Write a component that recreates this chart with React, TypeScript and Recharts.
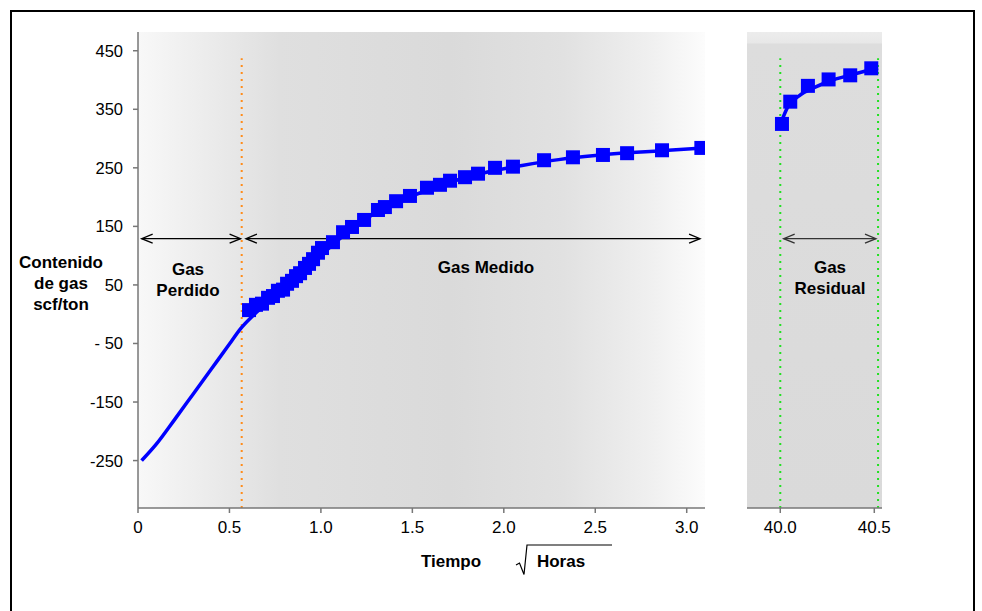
import React from 'react';
import {
  ComposedChart,
  Line,
  Scatter,
  XAxis,
  YAxis,
  CartesianGrid,
  ReferenceLine,
} from 'recharts';

// measured gas content (sqrt hours vs scf/ton)
const measuredX = [
  0.607, 0.645, 0.678, 0.711, 0.738, 0.765, 0.793, 0.815, 0.842, 0.864, 0.886, 0.913,
  0.935, 0.957, 0.984, 1.006, 1.066, 1.121, 1.17, 1.236, 1.312, 1.35, 1.411, 1.487,
  1.58, 1.651, 1.706, 1.788, 1.859, 1.952, 2.05, 2.22, 2.378, 2.542, 2.674, 2.865, 3.08,
];
const measuredY = [
  7, 16, 18, 28, 31, 40, 42, 52, 57, 65, 70, 79,
  86, 94, 105, 113, 123, 140, 149, 161, 178, 183, 193, 202,
  216, 221, 228, 234, 240, 250, 252, 263, 268, 272, 275, 280, 284,
];

// fitted curve (lost gas extrapolation + measured)
const fitX = [0.02, 0.1, 0.2, 0.3, 0.4, 0.5, 0.56, 0.63, 0.75, 0.9, 1.0, 1.1, 1.2, 1.35, 1.5, 1.7, 1.9, 2.1, 2.3, 2.5, 2.7, 2.9, 3.09];
const fitY = [-250, -222, -180, -137, -94, -51, -25, -2, 30, 70, 100, 128, 153, 182, 202, 225, 242, 254, 264, 271, 276, 280, 284];

// residual gas panel
const residualX = [40.009, 40.053, 40.147, 40.257, 40.372, 40.484];
const residualY = [325, 363, 390, 401, 408, 420];
const residualFitX = [40.005, 40.04, 40.1, 40.18, 40.28, 40.39, 40.52];
const residualFitY = [328, 354, 373, 387, 400, 410, 420];

const yTicks = [-250, -150, -50, 50, 150, 250, 350, 450];
const xTicksMain = [0, 0.5, 1, 1.5, 2, 2.5, 3];
const xTicksResidual = [40, 40.5];

const lostGasLimit = 0.567;
const residualLimits = [40.0, 40.52];
const arrowY = 129;

const measured = measuredX.map((x, i) => ({ x, y: measuredY[i] }));
const fit = fitX.map((x, i) => ({ x, y: fitY[i] }));
const residual = residualX.map((x, i) => ({ x, y: residualY[i] }));
const residualFit = residualFitX.map((x, i) => ({ x, y: residualFitY[i] }));

const Y_DOMAIN: [number, number] = [-331, 482];
const FONT = '"Liberation Sans", Arial, sans-serif';

const Square = (props: any) => {
  const { cx, cy } = props;
  if (cx == null || cy == null) return null;
  return <rect x={cx - 7} y={cy - 7} width={14} height={14} fill="#0000FF" />;
};

const Arrow = (props: any) => {
  const { x1, y1, x2, y2, color = '#000' } = props;
  const h = 11;
  const w = 4.5;
  return (
    <g>
      <line x1={x1} y1={y1} x2={x2} y2={y2} stroke={color} strokeWidth={1.3} />
      <polyline points={`${x1 + h},${y1 - w} ${x1},${y1} ${x1 + h},${y1 + w}`} fill="none" stroke={color} strokeWidth={1.3} />
      <polyline points={`${x2 - h},${y2 - w} ${x2},${y2} ${x2 - h},${y2 + w}`} fill="none" stroke={color} strokeWidth={1.3} />
    </g>
  );
};

// tick renderers so font size and family are applied for sure
const XTick = (props: any) => {
  const { x, y, payload, fmt } = props;
  return (
    <text x={x} y={y + 18} textAnchor="middle" fill="#000" fontSize={17} fontFamily={FONT}>
      {fmt(payload.value)}
    </text>
  );
};
const YTick = (props: any) => {
  const { x, y, payload } = props;
  return (
    <text x={x - 2} y={y + 6} textAnchor="end" fill="#000" fontSize={16.5} fontFamily={FONT}>
      {payload.value === -50 ? '- 50' : String(payload.value)}
    </text>
  );
};

const xFmt = (v: number) => (v === 0 ? '0' : v.toFixed(1));
const resFmt = (v: number) => v.toFixed(1);

const boldText: React.CSSProperties = {
  position: 'absolute',
  fontFamily: FONT,
  fontWeight: 'bold',
  fontSize: 17,
  lineHeight: '21px',
  textAlign: 'center',
  color: '#000',
  whiteSpace: 'nowrap',
};

export default function App() {
  return (
    <div style={{ position: 'absolute', left: 0, top: 0, width: 982, height: 611, background: '#fff', overflow: 'hidden' }}>
      <div style={{ position: 'absolute', left: 10, top: 10, width: 961, height: 640, border: '2px solid #000' }} />

      <div style={{ position: 'absolute', left: 0, top: 0 }}>
        <ComposedChart width={720} height={611} margin={{ top: 32, right: 15, bottom: 73, left: 78 }}>
          <defs>
            <linearGradient id="bgMain" x1="0" y1="0" x2="1" y2="0">
              <stop offset="0%" stopColor="#f8f8f8" />
              <stop offset="25%" stopColor="#dfdfdf" />
              <stop offset="55%" stopColor="#dadada" />
              <stop offset="75%" stopColor="#e1e1e1" />
              <stop offset="90%" stopColor="#efefef" />
              <stop offset="100%" stopColor="#fcfcfc" />
            </linearGradient>
          </defs>
          <CartesianGrid horizontal={false} vertical={false} fill="url(#bgMain)" stroke="none" />
          <XAxis
            type="number"
            dataKey="x"
            domain={[0, 3.1]}
            allowDataOverflow
            ticks={xTicksMain}
            height={30}
            stroke="#777"
            strokeWidth={1.5}
            tickSize={5}
            tick={<XTick fmt={xFmt} />}
          />
          <YAxis
            type="number"
            dataKey="y"
            domain={Y_DOMAIN}
            allowDataOverflow
            ticks={yTicks}
            width={60}
            stroke="#777"
            strokeWidth={1.5}
            tickSize={5}
            tickMargin={8}
            tick={<YTick />}
          />
          <ReferenceLine
            segment={[{ x: lostGasLimit, y: Y_DOMAIN[0] }, { x: lostGasLimit, y: 437 }]}
            stroke="#FF8C1A"
            strokeWidth={2}
            strokeDasharray="2 5"
          />
          <ReferenceLine
            segment={[{ x: 0.02, y: arrowY }, { x: 0.561, y: arrowY }]}
            shape={(p: any) => <Arrow {...p} />}
          />
          <ReferenceLine
            segment={[{ x: 0.59, y: arrowY }, { x: 3.073, y: arrowY }]}
            shape={(p: any) => <Arrow {...p} />}
          />
          <Line
            data={fit}
            dataKey="y"
            type="monotone"
            stroke="#0000FF"
            strokeWidth={3.5}
            dot={false}
            isAnimationActive={false}
          />
          <Scatter data={measured} dataKey="y" shape={Square} isAnimationActive={false} />
        </ComposedChart>
      </div>

      <div style={{ position: 'absolute', left: 720, top: 0 }}>
        <ComposedChart width={200} height={611} margin={{ top: 32, right: 38, bottom: 73, left: 27 }}>
          <defs>
            <linearGradient id="bgRes" x1="0" y1="0" x2="0" y2="1">
              <stop offset="0%" stopColor="#ececec" />
              <stop offset="2.2%" stopColor="#e8e8e8" />
              <stop offset="2.6%" stopColor="#dddddd" />
              <stop offset="100%" stopColor="#dadada" />
            </linearGradient>
          </defs>
          <CartesianGrid horizontal={false} vertical={false} fill="url(#bgRes)" stroke="none" />
          <XAxis
            type="number"
            dataKey="x"
            domain={[39.823, 40.541]}
            allowDataOverflow
            ticks={xTicksResidual}
            height={30}
            stroke="#777"
            strokeWidth={1.5}
            tickSize={5}
            tick={<XTick fmt={resFmt} />}
          />
          <YAxis type="number" dataKey="y" domain={Y_DOMAIN} allowDataOverflow hide />
          {residualLimits.map((x) => (
            <ReferenceLine
              key={x}
              segment={[{ x, y: Y_DOMAIN[0] }, { x, y: 437 }]}
              stroke="#22E022"
              strokeWidth={2}
              strokeDasharray="2 5"
            />
          ))}
          <ReferenceLine
            segment={[{ x: 40.018, y: arrowY }, { x: 40.509, y: arrowY }]}
            shape={(p: any) => <Arrow {...p} color="#333" />}
          />
          <Line
            data={residualFit}
            dataKey="y"
            type="monotone"
            stroke="#0000FF"
            strokeWidth={3.5}
            dot={false}
            isAnimationActive={false}
          />
          <Scatter data={residual} dataKey="y" shape={Square} isAnimationActive={false} />
        </ComposedChart>
      </div>

      <div style={{ ...boldText, left: 11, top: 252, width: 100 }}>
        Contenido<br />de gas<br />scf/ton
      </div>
      <div style={{ ...boldText, left: 138, top: 259, width: 100 }}>
        Gas<br />Perdido
      </div>
      <div style={{ ...boldText, left: 386, top: 257, width: 200 }}>Gas Medido</div>
      <div style={{ ...boldText, left: 780, top: 257, width: 100 }}>
        Gas<br />Residual
      </div>
      <div style={{ ...boldText, left: 401, top: 551, width: 100 }}>Tiempo</div>
      <div style={{ ...boldText, left: 511, top: 551, width: 100 }}>Horas</div>
      <svg style={{ position: 'absolute', left: 0, top: 0 }} width={982} height={611}>
        <path d="M516,565 L519.5,563 L524,574.5 L527,545 L612,545" fill="none" stroke="#000" strokeWidth={1.2} />
      </svg>
    </div>
  );
}
